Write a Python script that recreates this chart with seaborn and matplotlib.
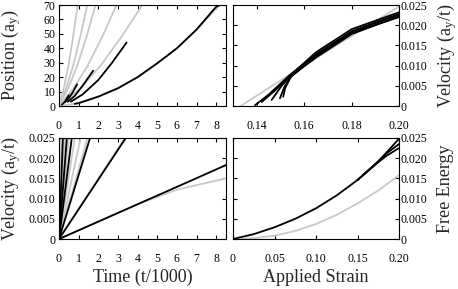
import matplotlib
matplotlib.use('Agg')
import pandas as pd
import matplotlib.pyplot as plt
import seaborn as sns

# ---------------- data ----------------
# top left: position (a_y) vs time (t/1000)
pos_gray_t = [[0, 0.24, 0.48, 0.72, 0.95],
              [0, 0.36, 0.72, 1.08, 1.44],
              [0, 0.46, 0.93, 1.40, 1.86],
              [0, 0.73, 1.46, 2.20, 2.93],
              [0, 1.06, 2.12, 3.18, 4.24],
              [0, 1, 2, 3, 4, 5, 6, 7, 8, 8.45]]
pos_gray_y = [[0, 12, 28, 48, 70],
              [0, 12, 28, 48, 70],
              [0, 12, 28, 48, 70],
              [0, 12, 28, 48, 70],
              [0, 12, 28, 48, 70],
              [0, 1.9, 6.5, 12.3, 19.9, 29.6, 40, 52.7, 67.5, 74]]
pos_black_t = [[0.15, 0.3, 0.5],
               [0.3, 0.5, 0.7, 0.92],
               [0.45, 0.8, 1.2, 1.74],
               [0.6, 1.2, 2.0, 2.7, 3.44],
               [0.8, 1, 2, 3, 4, 5, 6, 7, 8, 8.35]]
pos_black_y = [[1, 3, 7.5],
               [2.5, 5.5, 9.5, 15],
               [3, 7, 14, 24.5],
               [3, 8, 18, 30, 44],
               [1.5, 2, 6.5, 12.3, 20, 29.6, 40, 53, 68.8, 71]]

# top right: velocity (a_y/t) vs applied strain
vs_gray_x = [[0.1332, 0.1500, 0.1700, 0.2000]]
vs_gray_y = [[0.0, 0.0063, 0.0137, 0.0246]]
vs_black_x = [[0.1393, 0.1450, 0.1540, 0.1650, 0.1800, 0.2000],
              [0.1421, 0.1480, 0.1540, 0.1650, 0.1800, 0.2000],
              [0.1463, 0.1505, 0.1540, 0.1650, 0.1800, 0.2000],
              [0.1498, 0.1515, 0.1540, 0.1650, 0.1800, 0.2000],
              [0.1512, 0.1520, 0.1545, 0.1650, 0.1800, 0.2000]]
vs_black_y = [[0.0002, 0.0028, 0.0077, 0.0128, 0.0185, 0.0228],
              [0.0010, 0.0040, 0.0075, 0.0133, 0.0190, 0.0232],
              [0.0015, 0.0050, 0.0072, 0.0120, 0.0178, 0.0222],
              [0.0019, 0.0045, 0.0070, 0.0124, 0.0183, 0.0226],
              [0.0023, 0.0045, 0.0073, 0.0126, 0.0181, 0.0220]]

# bottom left: velocity (a_y/t) vs time (t/1000)
vt_gray_t = [[0, 0.12], [0, 0.3], [0, 0.5], [0, 0.8], [0, 1.1], [0, 1.45],
             [0, 3.35], [0, 2, 4, 6, 8.5]]
vt_gray_y = [[0, 0.025], [0, 0.025], [0, 0.025], [0, 0.025], [0, 0.025], [0, 0.025],
             [0, 0.025], [0, 0.0043, 0.0086, 0.0122, 0.0150]]
vt_black_t = [[0, 0.2], [0, 0.4], [0, 0.65], [0, 1.58], [0, 3.4],
              [0, 2, 4, 6, 8.5]]
vt_black_y = [[0, 0.025], [0, 0.025], [0, 0.025], [0, 0.025], [0, 0.025],
              [0, 0.0043, 0.0086, 0.0129, 0.0183]]

# bottom right: free energy vs applied strain
fe_gray_x = [[0, 0.025, 0.05, 0.075, 0.10, 0.125, 0.15, 0.175, 0.20]]
fe_gray_y = [[0, 0.0002, 0.0008, 0.0020, 0.0037, 0.0060, 0.0088, 0.0120, 0.0158]]
fe_black_x = [[0, 0.025, 0.05, 0.075, 0.10, 0.125, 0.15, 0.175, 0.20],
              [0.15, 0.175, 0.185, 0.20],
              [0.15, 0.175, 0.185, 0.20]]
fe_black_y = [[0, 0.0012, 0.0029, 0.0050, 0.0076, 0.0108, 0.0146, 0.0192, 0.0248],
              [0.0146, 0.0192, 0.0212, 0.0235],
              [0.0146, 0.0190, 0.0206, 0.0225]]

pos_ticks = [0, 10, 20, 30, 40, 50, 60, 70]
time_ticks = [0, 1, 2, 3, 4, 5, 6, 7, 8]
vel_ticks = [0, 0.005, 0.010, 0.015, 0.020, 0.025]
vel_labels = ['0', '0.005', '0.010', '0.015', '0.020', '0.025']
strain_top_ticks = [0.14, 0.16, 0.18, 0.20]
strain_top_labels = ['0.14', '0.16', '0.18', '0.20']
strain_bot_ticks = [0, 0.05, 0.10, 0.15, 0.20]
strain_bot_labels = ['0', '0.05', '0.10', '0.15', '0.20']

GRAY = '#c8c8c8'
BLACK = '#000000'

sns.set_style('ticks')
plt.rcParams['font.family'] = ['Liberation Serif', 'DejaVu Serif']
plt.rcParams['mathtext.fontset'] = 'custom'
plt.rcParams['mathtext.rm'] = 'Liberation Serif'
plt.rcParams['mathtext.it'] = 'Liberation Serif:italic'


def curves(xs, ys):
    rows = []
    for i, (xx, yy) in enumerate(zip(xs, ys)):
        for a, b in zip(xx, yy):
            rows.append({'x': a, 'y': b, 'curve': i})
    return pd.DataFrame(rows)


def draw(ax, gx, gy, bx, by):
    for xs, ys, col in [(gx, gy, GRAY), (bx, by, BLACK)]:
        df = curves(xs, ys)
        sns.lineplot(data=df, x='x', y='y', units='curve', estimator=None,
                     sort=False, color=col, lw=1.3, ax=ax, legend=False)


def style(ax, right=False):
    ax.tick_params(direction='in', top=True, right=True, length=3, width=0.8,
                   labelsize=8.5, colors='black')
    ax.tick_params(axis='x', pad=10)
    ax.tick_params(axis='y', pad=2.5)
    if right:
        ax.yaxis.tick_right()
        ax.tick_params(axis='y', left=True, right=True, pad=1)
    for s in ax.spines.values():
        s.set_linewidth(0.8)
        s.set_color('black')
    ax.set_xlabel('')
    ax.set_ylabel('')


W, H = 458, 289
fig = plt.figure(figsize=(W / 100, H / 100), dpi=100)


def add(l, t, r, b):
    return fig.add_axes([l / W, 1 - b / H, (r - l) / W, (b - t) / H])


ax1 = add(59, 5, 226, 106)
ax2 = add(233, 5, 399, 106)
ax3 = add(59, 138, 226, 239)
ax4 = add(233, 138, 399, 239)

draw(ax1, pos_gray_t, pos_gray_y, pos_black_t, pos_black_y)
draw(ax2, vs_gray_x, vs_gray_y, vs_black_x, vs_black_y)
draw(ax3, vt_gray_t, vt_gray_y, vt_black_t, vt_black_y)
draw(ax4, fe_gray_x, fe_gray_y, fe_black_x, fe_black_y)

style(ax1)
style(ax2, right=True)
style(ax3)
style(ax4, right=True)

ax1.set_xlim(0, 8.5)
ax1.set_ylim(0, 70)
ax1.set_xticks(time_ticks)
ax1.set_yticks(pos_ticks)

ax2.set_xlim(0.13, 0.20)
ax2.set_ylim(0, 0.025)
ax2.set_xticks(strain_top_ticks, strain_top_labels)
ax2.set_yticks(vel_ticks, vel_labels)

ax3.set_xlim(0, 8.5)
ax3.set_ylim(0, 0.025)
ax3.set_xticks(time_ticks)
ax3.set_yticks(vel_ticks, vel_labels)

ax4.set_xlim(0, 0.20)
ax4.set_ylim(0, 0.025)
ax4.set_xticks(strain_bot_ticks, strain_bot_labels)
ax4.set_yticks(vel_ticks, vel_labels)

lab = dict(fontsize=13, rotation=90, ha='center', va='center', rotation_mode='anchor')
fig.text(11 / W, 1 - 55.5 / H, 'Position (a$_\\mathrm{y}$)', **lab)
fig.text(11 / W, 1 - 188.5 / H, 'Velocity (a$_\\mathrm{y}$/t)', **lab)
fig.text(447 / W, 1 - 55.5 / H, 'Velocity (a$_\\mathrm{y}$/t)', **lab)
fig.text(446 / W, 1 - 188.5 / H, 'Free Energy', **lab)
fig.text(142.5 / W, 1 - 277 / H, 'Time (t/1000)', fontsize=13, ha='center', va='center')
fig.text(316 / W, 1 - 277 / H, 'Applied Strain', fontsize=13, ha='center', va='center')

fig.savefig('out.png', dpi=100, facecolor='white')
